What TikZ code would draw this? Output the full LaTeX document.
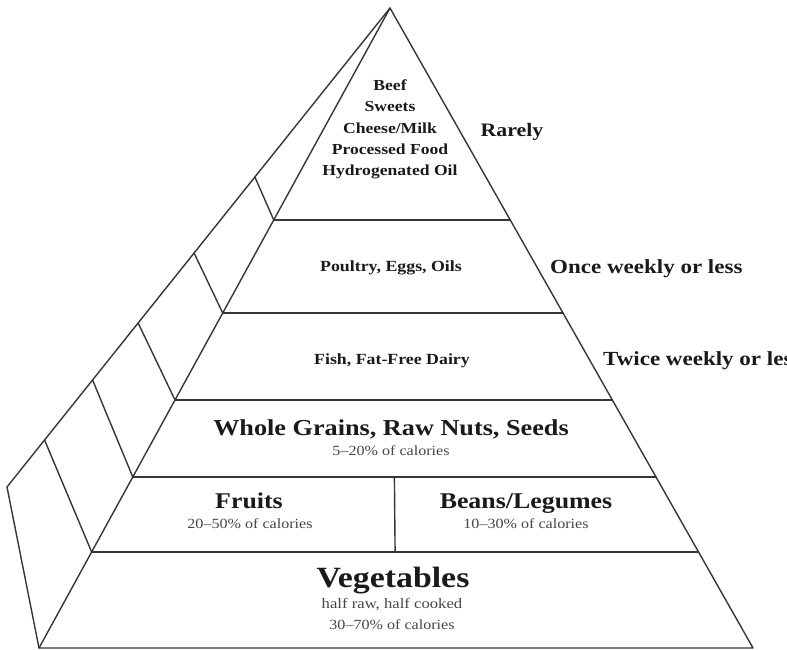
\documentclass[tikz,border=0pt]{standalone}
\usepackage{fontspec}
\usetikzlibrary{calc}
\newfontfamily\pyrfont{Liberation Serif}[FakeStretch=1.15]
\definecolor{linec}{HTML}{363636}
\definecolor{textc}{HTML}{1A1A1A}
\definecolor{subc}{HTML}{454545}
\begin{document}
\begin{tikzpicture}[x=1pt,y=-1pt,
  edge/.style={draw=linec, line width=1.4pt, line join=round, line cap=round},
  hd/.style={inner sep=0pt, anchor=base, text=textc, font=\pyrfont\bfseries\fontsize{#1}{#1}\selectfont},
  sub/.style={inner sep=0pt, anchor=base, text=subc, font=\pyrfont\fontsize{#1}{#1}\selectfont},
  stack/.style={inner sep=0pt, align=center, text=textc, font=\pyrfont\bfseries\fontsize{15.3}{21.4}\selectfont}
]
\useasboundingbox (0,0) rectangle (787,650);
% main corners
\coordinate (A)  at (390,8);
\coordinate (BL) at (39,648);
\coordinate (BR) at (753,648);
\coordinate (BK) at (7,487);
% front-left points of the level lines
\coordinate (F1) at ($(A)!0.33125!(BL)$);
\coordinate (F2) at ($(A)!0.4766!(BL)$);
\coordinate (F3) at ($(A)!0.6125!(BL)$);
\coordinate (F4) at ($(A)!0.7328!(BL)$);
\coordinate (F5) at ($(A)!0.85!(BL)$);
% right points of the level lines
\coordinate (R1) at ($(A)!0.33125!(BR)$);
\coordinate (R2) at ($(A)!0.4766!(BR)$);
\coordinate (R3) at ($(A)!0.6125!(BR)$);
\coordinate (R4) at ($(A)!0.7328!(BR)$);
\coordinate (R5) at ($(A)!0.85!(BR)$);
% back edge points
\coordinate (K1) at ($(A)!0.3528!(BK)$);
\coordinate (K2) at ($(A)!0.5115!(BK)$);
\coordinate (K3) at ($(A)!0.6576!(BK)$);
\coordinate (K4) at ($(A)!0.7766!(BK)$);
\coordinate (K5) at ($(A)!0.9019!(BK)$);
% middle divider
\coordinate (M4) at ($(F4)!0.5!(R4)$);
\coordinate (M5) at ($(F5)!0.5!(R5)$);

% outline
\draw[edge] (A) -- (BL) -- (BR) -- cycle;
\draw[edge] (A) -- (BK) -- (BL);
% level lines
\foreach \i in {1,...,5}{
  \draw[edge] (F\i) -- (R\i);
  \draw[edge] (K\i) -- (F\i);
}
\draw[edge] (M4) -- (M5);

% texts
\node[stack] (rarelist) at (390,129.5) {Beef\\Sweets\\Cheese/Milk\\Processed Food\\Hydrogenated Oil};
\node[hd=19] (rarely) at (512,137) {Rarely};
\node[hd=15.5] (poultry) at (391,271) {Poultry, Eggs, Oils};
\node[hd=20, anchor=base west] (once) at (550,273) {Once weekly or less};
\node[hd=15.5] (fish) at (392,364) {Fish, Fat-Free Dairy};
\node[hd=20, anchor=base west] (twice) at (603,365) {Twice weekly or less};
\node[hd=22.8] (grains) at (391,435) {Whole Grains, Raw Nuts, Seeds};
\node[sub=14] (grainsp) at (391,455.5) {5–20\% of calories};
\node[hd=22.5] (fruits) at (249,508) {Fruits};
\node[sub=14] (fruitsp) at (250,528) {20–50\% of calories};
\node[hd=22.5] (beans) at (526,508) {Beans/Legumes};
\node[sub=14] (beansp) at (526,528) {10–30\% of calories};
\node[hd=29.4] (veg) at (393,587) {Vegetables};
\node[sub=14.5] (vegh) at (392,608) {half raw, half cooked};
\node[sub=14] (vegp) at (392,629) {30–70\% of calories};
\end{tikzpicture}
\end{document}
